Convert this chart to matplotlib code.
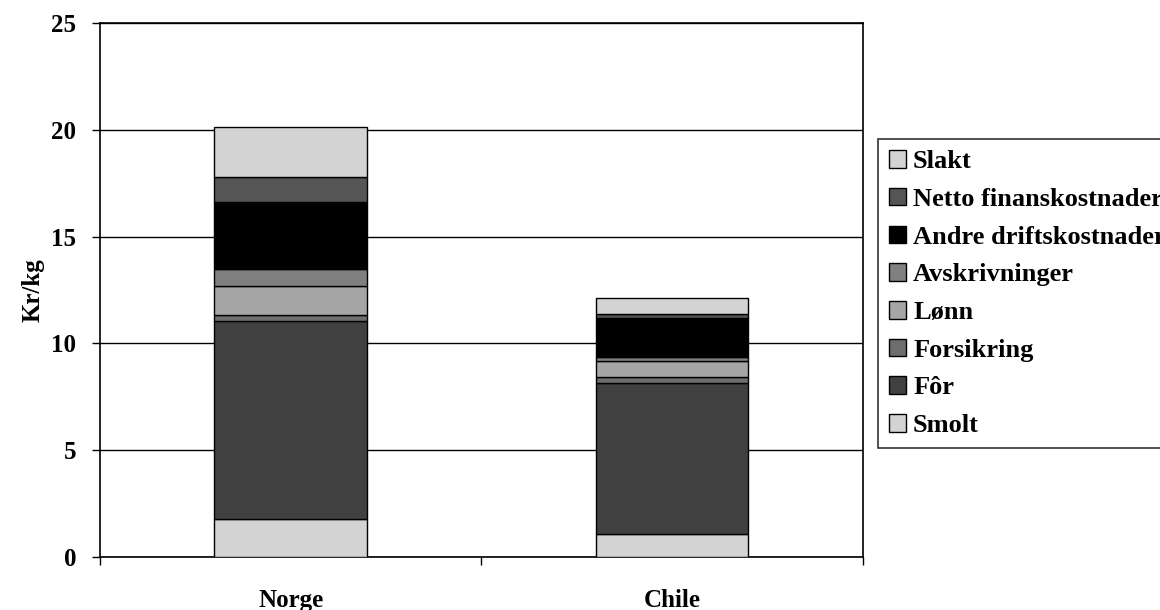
import matplotlib.pyplot as plt
import numpy as np
from matplotlib.ticker import FixedLocator

plt.rcParams["font.family"] = ["Liberation Serif", "DejaVu Serif"]
plt.rcParams["font.weight"] = "bold"

countries = ["Norge", "Chile"]
components = ["Smolt", "Fôr", "Forsikring", "Lønn", "Avskrivninger",
              "Andre driftskostnader", "Netto finanskostnader", "Slakt"]
norge = [1.76, 9.29, 0.28, 1.37, 0.77, 3.16, 1.17, 2.32]
chile = [1.09, 7.07, 0.27, 0.73, 0.22, 1.82, 0.18, 0.73]
colors = ["#d3d3d3", "#404040", "#6e6e6e", "#a6a6a6", "#808080",
          "#000000", "#555555", "#d3d3d3"]
yticks = [0, 5, 10, 15, 20, 25]

fig = plt.figure(figsize=(11.6, 6.1), dpi=100)
ax = fig.add_axes([100 / 1160, 53 / 610, 762.7 / 1160, 534 / 610])

x = np.arange(len(countries))
values = np.array([norge, chile])
bottom = np.zeros(len(countries))
handles = []
for i, name in enumerate(components):
    h = ax.bar(x, values[:, i], width=0.4, bottom=bottom, color=colors[i],
               edgecolor="black", linewidth=1.0, label=name, zorder=3)
    handles.append(h)
    bottom += values[:, i]

fs = 18
ax.set_xlim(-0.5, 1.5)
ax.set_ylim(0, 25)
ax.set_yticks(yticks)
ax.set_yticklabels([str(t) for t in yticks], fontsize=fs, fontweight="bold")
ax.yaxis.grid(True, color="black", linewidth=1.0, zorder=0)
ax.set_ylabel("Kr/kg", fontsize=fs, fontweight="bold", labelpad=5)

ax.set_xticks(x)
ax.set_xticklabels(countries, fontsize=fs, fontweight="bold")
ax.xaxis.set_minor_locator(FixedLocator([-0.5, 0.5, 1.5]))
ax.tick_params(axis="x", which="major", length=0, pad=23)
ax.tick_params(axis="x", which="minor", length=6, width=1.0, direction="out")
ax.tick_params(axis="y", length=6, width=1.0, direction="out", pad=11)

for side in ["left", "right", "top", "bottom"]:
    ax.spines[side].set_linewidth(1.2)
    ax.spines[side].set_color("black")

# legend runs past the right edge, as in the original
leg = fig.legend(handles[::-1], components[::-1], loc="upper left",
                 bbox_to_anchor=(877.7 / 1160, 1 - 139 / 610),
                 prop={"size": 19, "weight": "bold"},
                 frameon=True, fancybox=False, edgecolor="black",
                 handlelength=0.65, handleheight=0.65, handletextpad=0.27,
                 labelspacing=0.555, borderpad=0.42, borderaxespad=0)
leg.get_frame().set_linewidth(1.2)

fig.savefig("out.png", dpi=100)
